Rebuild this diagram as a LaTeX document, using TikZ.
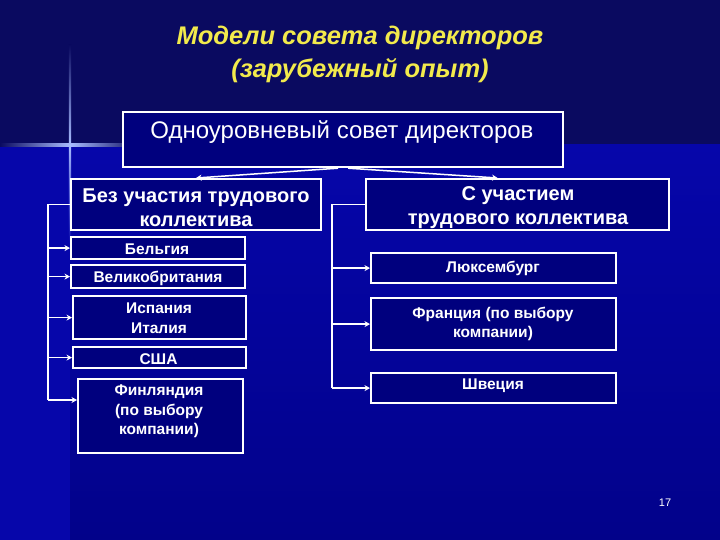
\documentclass[tikz,border=0pt]{standalone}
\usepackage{fontspec}
\setmainfont{Liberation Sans}
\usetikzlibrary{arrows.meta}
\definecolor{bgtop}{HTML}{0A0A60}
\definecolor{bgmain}{HTML}{0606AA}
\definecolor{bglow}{HTML}{02028A}
\definecolor{boxblue}{HTML}{00007E}
\definecolor{titleyellow}{HTML}{F2EA4C}
\definecolor{glow}{HTML}{A8BCFF}

\begin{document}
\begin{tikzpicture}[x=1pt,y=-1pt,
    box/.style={draw=white,line width=2.2pt,fill=boxblue,inner sep=0pt,anchor=north west},
    txt/.style={text=white,align=center,font=\bfseries\fontsize{15.5}{19.5}\selectfont},
    conn/.style={draw=white,line width=1.5pt},
    arr/.style={conn,-{Stealth[length=5.5pt,width=6pt]}}]
    \useasboundingbox (0,0) rectangle (720,540);
    % background
    \fill[bgtop] (0,0) rectangle (720,540);
    \fill[bgmain] (0,145) rectangle (70,540);
    \shade[top color=bgmain,bottom color=bglow] (70,145) rectangle (720,540);
    \shade[left color=bgtop,right color=bgtop,middle color=glow] (0,144) rectangle (140,146.5);
    \shade[top color=bgtop,bottom color=bgmain,middle color=glow] (68.8,45) rectangle (71.2,245);

    % title
    \node[text=titleyellow,align=center,font=\bfseries\itshape\fontsize{25.5}{33}\selectfont] (title) at (360,54) {Модели совета директоров\\(зарубежный опыт)};

    % boxes
    \node[box,minimum width=440,minimum height=55] (top) at (122,111) {};
    \node[box,minimum width=250,minimum height=51] (lhead) at (70,178) {};
    \node[box,minimum width=303,minimum height=51] (rhead) at (365,178) {};
    \node[box,minimum width=174,minimum height=22] (bel) at (70,236) {};
    \node[box,minimum width=174,minimum height=23] (gb) at (70,264) {};
    \node[box,minimum width=173,minimum height=43] (esp) at (72,295) {};
    \node[box,minimum width=173,minimum height=21] (usa) at (72,346) {};
    \node[box,minimum width=165,minimum height=74] (fin) at (77,378) {};
    \node[box,minimum width=245,minimum height=30] (lux) at (370,252) {};
    \node[box,minimum width=245,minimum height=52] (fra) at (370,297) {};
    \node[box,minimum width=245,minimum height=30] (swe) at (370,372) {};

    % texts
    \node[txt,font=\fontsize{24}{28}\selectfont] (toptxt) at (342,132) {Одноуровневый совет директоров};
    \node[txt,font=\bfseries\fontsize{20}{24}\selectfont] (lheadtxt) at (196,208) {Без участия трудового\\коллектива};
    \node[txt,font=\bfseries\fontsize{20}{24}\selectfont] (rheadtxt) at (518,208) {С участием\\трудового коллектива};
    \node[txt] (beltxt) at (157,249) {Бельгия};
    \node[txt] (gbtxt) at (158,278.5) {Великобритания};
    \node[txt] (esptxt) at (159,318) {Испания\\Италия};
    \node[txt] (usatxt) at (158.5,359) {США};
    \node[txt] (fintxt) at (159,411.5) {Финляндия\\(по выбору\\компании)};
    \node[txt] (luxtxt) at (493,268) {Люксембург};
    \node[txt] (fratxt) at (493,324) {Франция (по выбору\\компании)};
    \node[txt] (swetxt) at (493,386) {Швеция};
    \node[text=white,font=\fontsize{11}{13}\selectfont] (page) at (665,503) {17};

    % connectors
    \draw[arr] ([xshift=-5pt]top.south) -- (lhead.north);
    \draw[arr] ([xshift=5pt]top.south) -- ([xshift=-20pt]rhead.north);

    \coordinate (ltrunk) at (48,0);
    \coordinate (finin) at ([yshift=-22pt]fin.north west);
    \draw[conn] (lhead.west) -- (ltrunk |- lhead.west) -- (ltrunk |- finin);
    \draw[arr] (ltrunk |- bel.west) -- (bel.west);
    \draw[arr] (ltrunk |- gb.west) -- (gb.west);
    \draw[arr] (ltrunk |- esp.west) -- (esp.west);
    \draw[arr] (ltrunk |- usa.west) -- (usa.west);
    \draw[arr] (ltrunk |- finin) -- (finin);

    \coordinate (rtrunk) at (332,0);
    \draw[conn] (rhead.west) -- (rtrunk |- rhead.west) -- (rtrunk |- swe.west);
    \draw[arr] (rtrunk |- lux.west) -- (lux.west);
    \draw[arr] (rtrunk |- fra.west) -- (fra.west);
    \draw[arr] (rtrunk |- swe.west) -- (swe.west);
\end{tikzpicture}
\end{document}
